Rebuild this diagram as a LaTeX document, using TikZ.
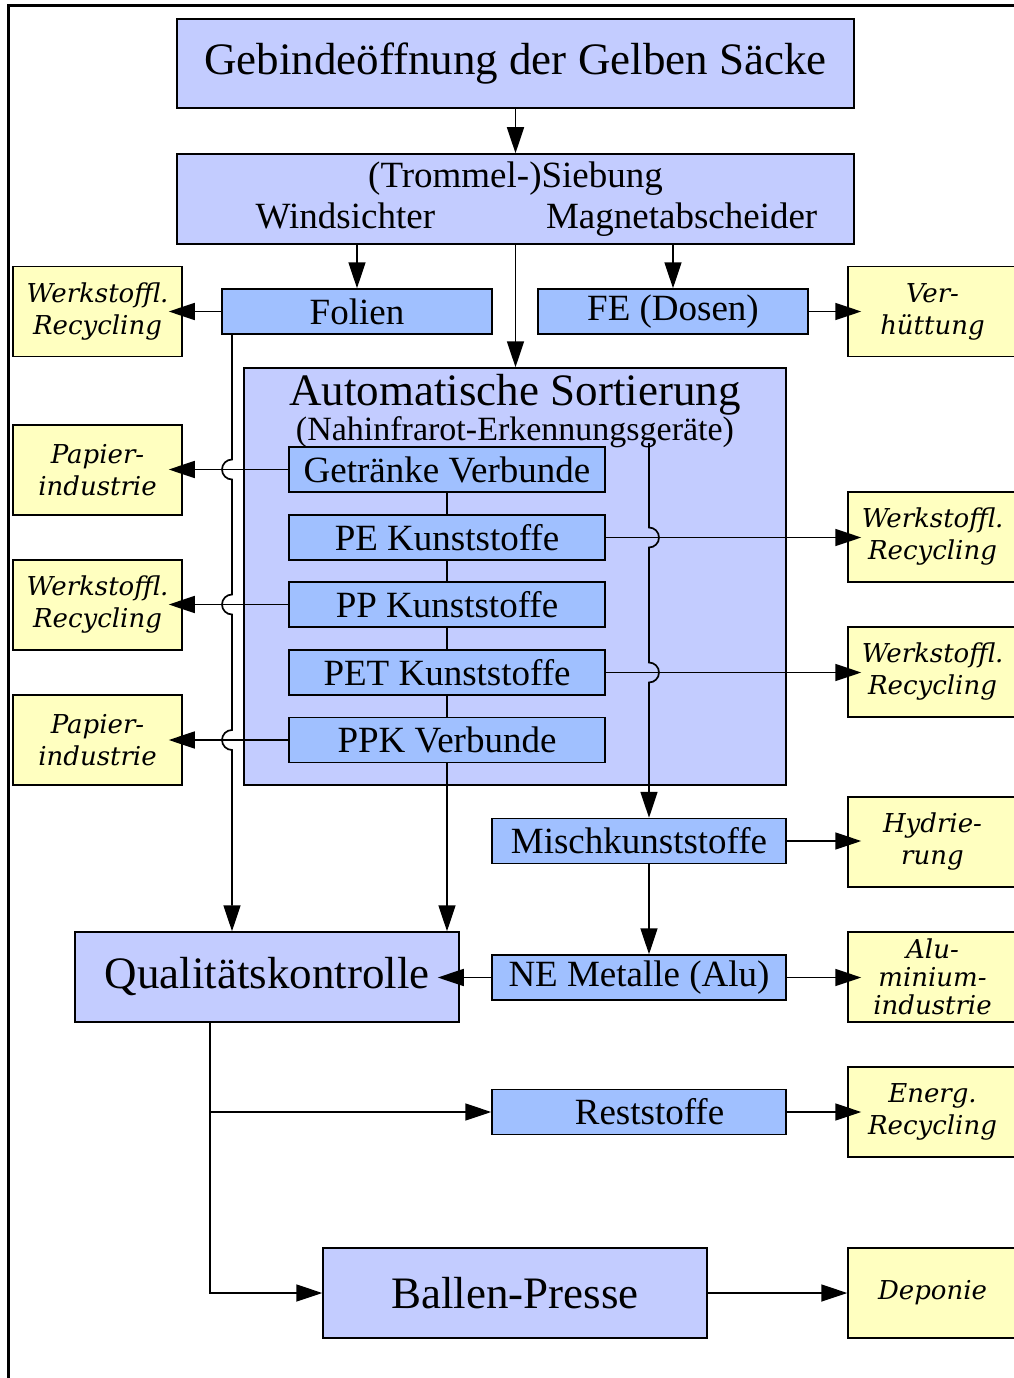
\documentclass[tikz,border=0pt]{standalone}
\usepackage{fontspec}
\setmainfont{Liberation Serif}
\newfontfamily\sinkfont{DejaVu Serif}
\usetikzlibrary{arrows.meta,calc}
\definecolor{sortblue}{RGB}{195,204,255}
\definecolor{fracblue}{RGB}{160,192,255}
\definecolor{sinkyellow}{RGB}{255,255,192}

\begin{document}
\begin{tikzpicture}[x=1pt, y=1pt,
    box/.style={draw, line width=1.5pt, fill=sortblue, inner sep=0pt, align=center, font=\fontsize{45}{50}\selectfont},
    frac/.style={draw, line width=1.5pt, fill=fracblue, minimum width=316pt, minimum height=45pt, inner sep=0pt, font=\fontsize{37}{41}\selectfont},
    sink/.style={draw, line width=1.5pt, fill=sinkyellow, minimum width=169pt, minimum height=90pt, inner sep=0pt, align=center, font=\sinkfont\itshape\fontsize{26}{32}\selectfont},
    flow/.style={line width=1.7pt, -{Triangle[length=26pt, width=17pt]}},
    into/.style={shorten >=-14pt}]
    \useasboundingbox (0,0) rectangle (1013,-1378);
    % page frame
    \draw[line width=3pt] (8,-1500) -- (8,-6) -- (1100,-6);

    % main chain
    \node[box, minimum width=677pt, minimum height=89pt] (gebinde) at (515.5,-63.5) {Gebindeöffnung der Gelben Säcke};
    \node[box, minimum width=677pt, minimum height=90pt, font=\fontsize{37}{41}\selectfont] (sieb) at (515.5,-199) {(Trommel-)Siebung\\\hspace*{42pt}Windsichter\hspace{111pt}Magnetabscheider};
    \node[frac, minimum width=270pt] (folien) at (357,-311.5) {Folien};
    \node[frac, minimum width=270pt] (fe) at (673,-311.5) {FE (Dosen)};

    % sorting unit
    \node[box, minimum width=542pt, minimum height=417pt] (auto) at (515,-576.5) {};
    \node[anchor=north, align=center, inner sep=0pt, font=\fontsize{45}{33}\selectfont] (autotitle) at (515,-374) {Automatische Sortierung\\\fontsize{34}{33}\selectfont(Nahinfrarot-Erkennungsgeräte)};
    \node[frac] (getr) at (447,-469.5) {Getränke Verbunde};
    \node[frac] (pe) at (447,-537.5) {PE Kunststoffe};
    \node[frac] (pp) at (447,-604.5) {PP Kunststoffe};
    \node[frac] (pet) at (447,-672.5) {PET Kunststoffe};
    \node[frac] (ppk) at (447,-740) {PPK Verbunde};

    \node[frac, minimum width=294pt] (misch) at (639,-841) {Mischkunststoffe};
    \node[frac, minimum width=294pt] (ne) at (639,-977.5) {NE Metalle (Alu)};
    \node[frac, minimum width=294pt] (rest) at (639,-1112) {\hspace*{21pt}Reststoffe};
    \node[box, minimum width=384pt, minimum height=90pt] (qk) at (267,-977) {Qualitätskontrolle};
    \node[box, minimum width=384pt, minimum height=90pt] (ballen) at (515,-1293) {Ballen-Presse};

    % outlets
    \node[sink] (wr1) at (97.5,-311.5) {Werkstoffl.\\Recycling};
    \node[sink] (pap1) at (97.5,-470) {Papier-\\industrie};
    \node[sink] (wr2) at (97.5,-605) {Werkstoffl.\\Recycling};
    \node[sink] (pap2) at (97.5,-740) {Papier-\\industrie};
    \node[sink] (verh) at (932.5,-311.5) {Ver-\\hüttung};
    \node[sink] (wr3) at (932.5,-537) {Werkstoffl.\\Recycling};
    \node[sink] (wr4) at (932.5,-672) {Werkstoffl.\\Recycling};
    \node[sink] (hydr) at (932.5,-842) {Hydrie-\\rung};
    \node[sink, font=\sinkfont\itshape\fontsize{26}{28}\selectfont] (alu) at (932.5,-977) {Alu-\\minium-\\industrie};
    \node[sink] (energ) at (932.5,-1112) {Energ.\\Recycling};
    \node[sink] (dep) at (932.5,-1293) {Deponie};

    \coordinate (lft) at (232,0);
    \coordinate (rgt) at (649,-443);

    \draw[flow] (gebinde.south) -- (sieb.north);
    \draw[flow] (sieb.south -| folien.north) -- (folien.north);
    \draw[flow] (sieb.south -| fe.north) -- (fe.north);
    \draw[flow] (sieb.south) -- (sieb.south |- auto.north);
    \draw[flow, into] (folien.west) -- (folien.west -| wr1.east);
    \draw[flow, into] (fe.east) -- (fe.east -| verh.west);

    % chain of fractions
    \draw[line width=1.5pt] (getr.south) -- (pe.north) (pe.south) -- (pp.north) (pp.south) -- (pet.north) (pet.south) -- (ppk.north);
    \draw[flow, into] (getr.west) -- (getr.west -| pap1.east);
    \draw[flow, into] (pp.west) -- (pp.west -| wr2.east);
    \draw[flow, into] (ppk.west) -- (ppk.west -| pap2.east);
    \draw[flow, into] (pe.east) -- (pe.east -| wr3.west);
    \draw[flow, into] (pet.east) -- (pet.east -| wr4.west);

    % film line, hopping over the outlets
    \draw[flow] (folien.south -| lft) -- ($(getr.west -| lft)+(0,10)$) arc[start angle=90, end angle=270, radius=10pt]
        -- ($(pp.west -| lft)+(0,10)$) arc[start angle=90, end angle=270, radius=10pt]
        -- ($(ppk.west -| lft)+(0,10)$) arc[start angle=90, end angle=270, radius=10pt]
        -- (qk.north -| lft);
    \draw[flow] (ppk.south) -- (ppk.south |- qk.north);

    % mixed plastics
    \draw[flow] (rgt) -- ($(pe.east -| rgt)+(0,10)$) arc[start angle=90, end angle=-90, radius=10pt]
        -- ($(pet.east -| rgt)+(0,10)$) arc[start angle=90, end angle=-90, radius=10pt]
        -- (misch.north -| rgt);
    \draw[flow, into] (misch.east) -- (misch.east -| hydr.west);
    \draw[flow] (misch.south -| rgt) -- (ne.north -| rgt);
    \draw[flow, shorten >=-22pt] (ne.west) -- (ne.west -| qk.east);
    \draw[flow, into] (ne.east) -- (ne.east -| alu.west);

    % after quality check
    \draw[flow] ([xshift=-57pt]qk.south) |- (rest.west);
    \draw[flow] ([xshift=-57pt]qk.south) |- (ballen.west);
    \draw[flow, into] (rest.east) -- (rest.east -| energ.west);
    \draw[flow] (ballen.east) -- (ballen.east -| dep.west);
\end{tikzpicture}
\end{document}
